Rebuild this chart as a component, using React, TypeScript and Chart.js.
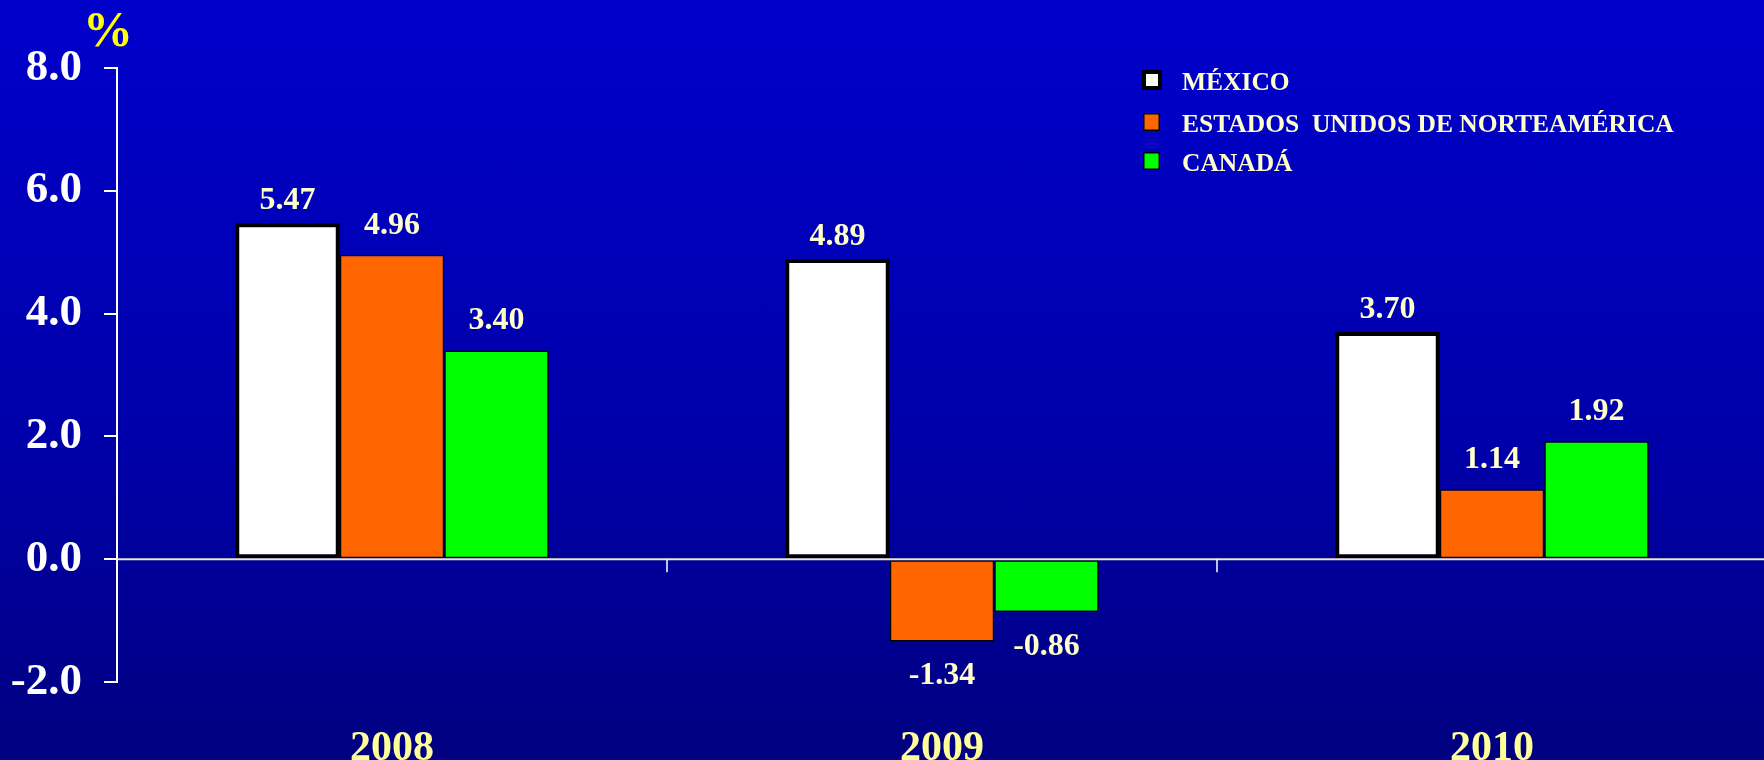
import React, { useEffect, useRef } from "react";
import { Chart, registerables } from "chart.js";

Chart.register(...registerables);

const categories = ["2008", "2009", "2010"];
const mexico = [5.47, 4.89, 3.7];
const usa = [4.96, -1.34, 1.14];
const canada = [3.4, -0.86, 1.92];
const seriesNames = ["MÉXICO", "ESTADOS  UNIDOS DE NORTEAMÉRICA", "CANADÁ"];
const yMin = -2;
const yMax = 8;
const yStep = 2;
const unitLabel = "%";

const FONT = "'Liberation Serif', 'Times New Roman', serif";

const overlayPlugin = {
  id: "overlay",
  afterDatasetsDraw(chart: any) {
    const { ctx, chartArea, scales } = chart;
    const y0 = scales.y.getPixelForValue(0);
    ctx.save();
    // zero line
    ctx.strokeStyle = "#EDE6C8";
    ctx.lineWidth = 2;
    ctx.beginPath();
    ctx.moveTo(chartArea.left, y0);
    ctx.lineTo(chartArea.right, y0);
    ctx.stroke();
    // category boundary ticks
    ctx.strokeStyle = "#FFFFFF";
    ctx.lineWidth = 1.5;
    for (let i = 1; i < categories.length; i++) {
      const xb = (scales.x.getPixelForValue(i - 1) + scales.x.getPixelForValue(i)) / 2;
      ctx.beginPath();
      ctx.moveTo(xb, y0);
      ctx.lineTo(xb, y0 + 13);
      ctx.stroke();
    }
    // value labels
    ctx.fillStyle = "#FFFFCC";
    ctx.font = `bold 32px ${FONT}`;
    ctx.textAlign = "center";
    ctx.textBaseline = "alphabetic";
    chart.data.datasets.forEach((ds: any, i: number) => {
      const meta = chart.getDatasetMeta(i);
      meta.data.forEach((bar: any, j: number) => {
        const v = ds.data[j];
        const off = i === 0 ? 14 : 21;
        const ty = v >= 0 ? bar.y - off : bar.y + 43;
        ctx.fillText(v.toFixed(2), bar.x, ty);
      });
    });
    ctx.restore();
  },
  afterDraw(chart: any) {
    const { ctx } = chart;
    ctx.save();
    // unit label
    ctx.fillStyle = "#FFFF00";
    ctx.font = `bold 50px ${FONT}`;
    ctx.textAlign = "center";
    ctx.textBaseline = "middle";
    ctx.fillText(unitLabel, 108, 33);
    // legend
    const rows = [80, 122, 161];
    chart.data.datasets.forEach((ds: any, i: number) => {
      const cy = rows[i];
      if (i === 0) {
        ctx.fillStyle = "#000000";
        ctx.fillRect(1142, cy - 10, 20, 20);
        ctx.fillStyle = "#FFFFFF";
        ctx.fillRect(1146, cy - 6, 12, 12);
      } else {
        ctx.fillStyle = "#000000";
        ctx.fillRect(1143, cy - 9, 17, 18);
        ctx.fillStyle = ds.backgroundColor;
        ctx.fillRect(1144.5, cy - 7.5, 14, 15);
      }
      ctx.fillStyle = "#FFFFCC";
      ctx.font = `bold 25.5px ${FONT}`;
      ctx.textAlign = "left";
      ctx.textBaseline = "middle";
      ctx.fillText(ds.label, 1182, cy + 3);
    });
    ctx.restore();
  },
};

export default function App() {
  const ref = useRef<HTMLCanvasElement | null>(null);
  useEffect(() => {
    if (!ref.current) return;
    const chart = new Chart(ref.current, {
      type: "bar",
      data: {
        labels: categories,
        datasets: [
          {
            label: seriesNames[0],
            data: mexico,
            backgroundColor: "#FFFFFF",
            borderColor: "#000000",
            borderWidth: 4,
            borderSkipped: false,
          },
          {
            label: seriesNames[1],
            data: usa,
            backgroundColor: "#FF6600",
            borderColor: "#000000",
            borderWidth: 1.5,
            borderSkipped: false,
          },
          {
            label: seriesNames[2],
            data: canada,
            backgroundColor: "#00FF00",
            borderColor: "#000000",
            borderWidth: 1.5,
            borderSkipped: false,
          },
        ],
      },
      options: {
        responsive: false,
        maintainAspectRatio: false,
        animation: false,
        layout: { padding: { top: 68, right: 0, left: 0, bottom: 0 } },
        plugins: {
          legend: { display: false },
          tooltip: { enabled: false },
          title: { display: false },
        },
        datasets: {
          bar: { categoryPercentage: 0.57, barPercentage: 1 },
        },
        scales: {
          x: {
            grid: { display: false },
            border: { display: false },
            ticks: {
              color: "#FFFF99",
              font: { family: FONT, size: 42, weight: "bold" },
              padding: 34,
              maxRotation: 0,
            },
            afterFit: (s: any) => {
              s.height = 78;
            },
          },
          y: {
            min: yMin,
            max: yMax,
            ticks: {
              stepSize: yStep,
              color: "#FFFFFF",
              font: { family: FONT, size: 45, weight: "bold" },
              padding: 22,
              callback: (v: any) => Number(v).toFixed(1),
            },
            grid: {
              drawOnChartArea: false,
              drawTicks: true,
              tickLength: 13,
              color: "#FFFFFF",
              lineWidth: 2,
            },
            border: { display: true, color: "#FFFFFF", width: 2 },
            afterFit: (s: any) => {
              s.width = 117;
            },
          },
        },
      },
      plugins: [overlayPlugin],
    } as any);
    return () => chart.destroy();
  }, []);
  return (
    <div
      style={{
        position: "fixed",
        left: 0,
        top: 0,
        width: 1764,
        height: 760,
        overflow: "hidden",
        background: "linear-gradient(to bottom, #0000CC 0%, #0000A8 60%, #000080 100%)",
      }}
    >
      <canvas ref={ref} width={1767} height={760} style={{ display: "block" }} />
    </div>
  );
}
